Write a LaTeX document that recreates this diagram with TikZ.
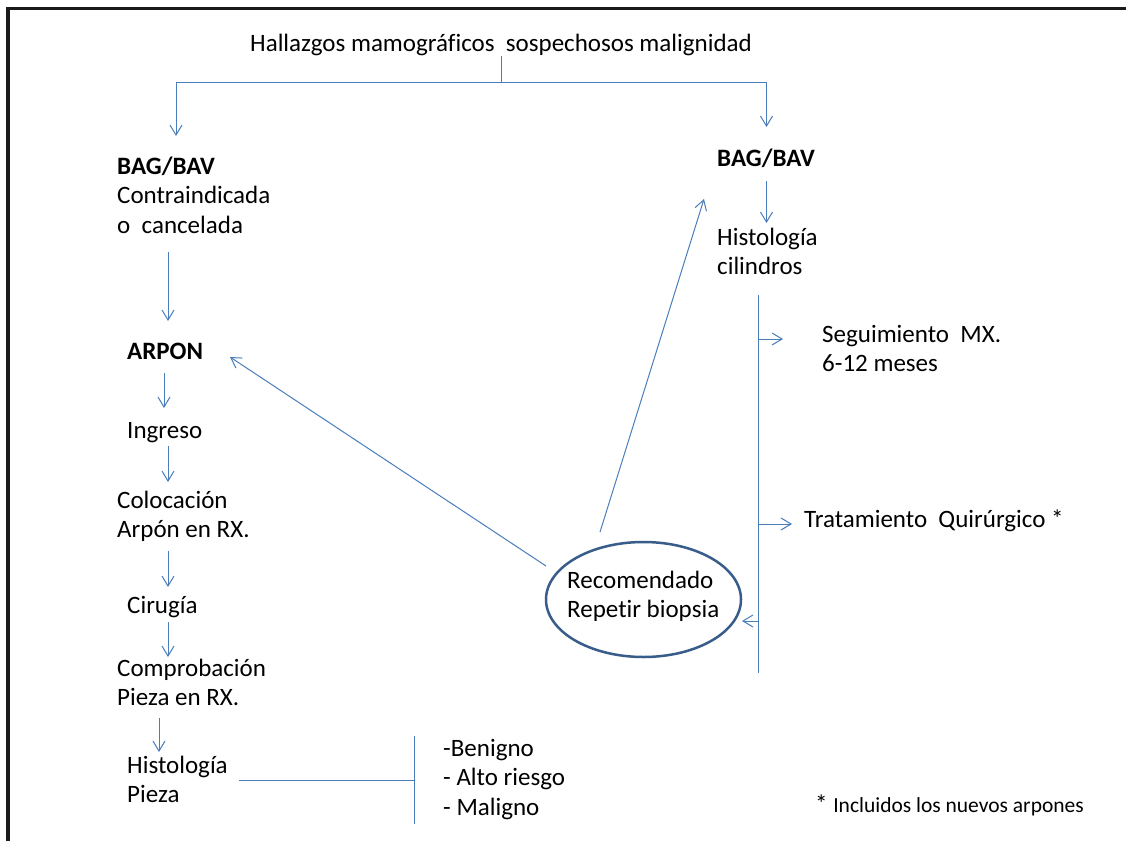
\documentclass[tikz,border=0pt]{standalone}
\usepackage{fontspec}
\setmainfont{Carlito}[Ligatures=NoCommon]
\usetikzlibrary{arrows.meta,shapes.geometric}
\definecolor{lnblue}{HTML}{4A7EBB}
\definecolor{elblue}{HTML}{385D8A}
\definecolor{framec}{HTML}{1A1A1A}
\newcommand\mlines[1]{\begin{tabular}[t]{@{}l@{}}#1\end{tabular}}
\begin{document}
\begin{tikzpicture}[x=1pt,y=-1pt,
  txt/.style={anchor=base west,inner sep=0pt,font=\fontsize{25}{29.5}\selectfont},
  conn/.style={draw=lnblue,line width=1pt},
  arr/.style={conn,-{Straight Barb[length=10pt,width=12pt,line width=1pt]}},
  oval/.style={ellipse,draw=elblue,line width=2.5pt,minimum width=195pt,minimum height=115pt,inner sep=0pt}]
\useasboundingbox (0,0) rectangle (1126,840);
\fill[white] (0,0) rectangle (1126,840);
% frame (only top and left sides visible)
\draw[framec,line width=3.5pt] (8,842) -- (8,8.5) -- (1128,8.5);

% texts
\node[txt] (title) at (250,52) {Hallazgos mamográficos\ \ sospechosos malignidad};
\node[txt] (bagL) at (117,174) {\mlines{\textbf{BAG/BAV}\\Contraindicada\\o\ \ cancelada}};
\node[txt] (arpon) at (127,359) {\textbf{ARPON}};
\node[txt] (ingreso) at (127,438) {Ingreso};
\node[txt] (coloc) at (117,508) {\mlines{Colocación\\Arpón en RX.}};
\node[txt] (cirugia) at (127,613) {Cirugía};
\node[txt] (comprob) at (117,676) {\mlines{Comprobación\\Pieza en RX.}};
\node[txt] (histL) at (127,773) {\mlines{Histología\\Pieza}};
\node[txt] (result) at (443,756) {\mlines{-Benigno\\- Alto riesgo\\- Maligno}};
\node[txt] (bagR) at (717,166) {\textbf{BAG/BAV}};
\node[txt] (histR) at (717,245) {\mlines{Histología\\cilindros}};
\node[txt] (seg) at (822,342) {\mlines{Seguimiento\ \ MX.\\6-12 meses}};
\node[txt] (trat) at (804,527) {Tratamiento\ \ Quirúrgico *};
\node[oval] (rec) at (643.5,599.5) {};
\node[txt] (rectxt) at (567,588) {\mlines{Recomendado\\Repetir biopsia}};
\node[txt] (fn) at (815,812) {*\ {\fontsize{21.5}{26}\selectfont Incluidos los nuevos arpones}};

% connector points
\coordinate (split) at (501,83);
\coordinate (toBagL) at (176,136);
\coordinate (toBagR) at (766.5,127);
\coordinate (a1s) at (168,252);  \coordinate (a1e) at (168,321);
\coordinate (a2s) at (164,373);  \coordinate (a2e) at (164,408);
\coordinate (a3s) at (168,446);  \coordinate (a3e) at (168,482);
\coordinate (a4s) at (168,551);  \coordinate (a4e) at (168,587);
\coordinate (a5s) at (168,622);  \coordinate (a5e) at (168,657);
\coordinate (a6s) at (159,718);  \coordinate (a6e) at (159,752);
\coordinate (hL) at (239,780);   \coordinate (hR) at (414,780);
\coordinate (vbT) at (414,736);  \coordinate (vbB) at (414,824);
\coordinate (r1s) at (766.5,181); \coordinate (r1e) at (766.5,223);
\coordinate (vT) at (758,295);   \coordinate (vB) at (758,673);
\coordinate (segS) at (758,339); \coordinate (segE) at (783,339);
\coordinate (tratS) at (758,524); \coordinate (tratE) at (792,524);
\coordinate (recS) at (758,621); \coordinate (recE) at (742,621);
\coordinate (upS) at (600,532);  \coordinate (upE) at (704,199);
\coordinate (lfS) at (546,566);  \coordinate (lfE) at (230,357);

% connectors
\draw[conn] (title.south -| split) -- (split);
\draw[arr] (split) -| (toBagL);
\draw[arr] (split) -| (toBagR);
\draw[arr] (a1s) -- (a1e);
\draw[arr] (a2s) -- (a2e);
\draw[arr] (a3s) -- (a3e);
\draw[arr] (a4s) -- (a4e);
\draw[arr] (a5s) -- (a5e);
\draw[arr] (a6s) -- (a6e);
\draw[conn] (hL) -- (hR);
\draw[conn] (vbT) -- (vbB);
\draw[arr] (r1s) -- (r1e);
\draw[conn] (vT) -- (vB);
\draw[arr] (segS) -- (segE);
\draw[arr] (tratS) -- (tratE);
\draw[arr] (recS) -- (recE);
\draw[arr] (upS) -- (upE);
\draw[arr] (lfS) -- (lfE);
\end{tikzpicture}
\end{document}
